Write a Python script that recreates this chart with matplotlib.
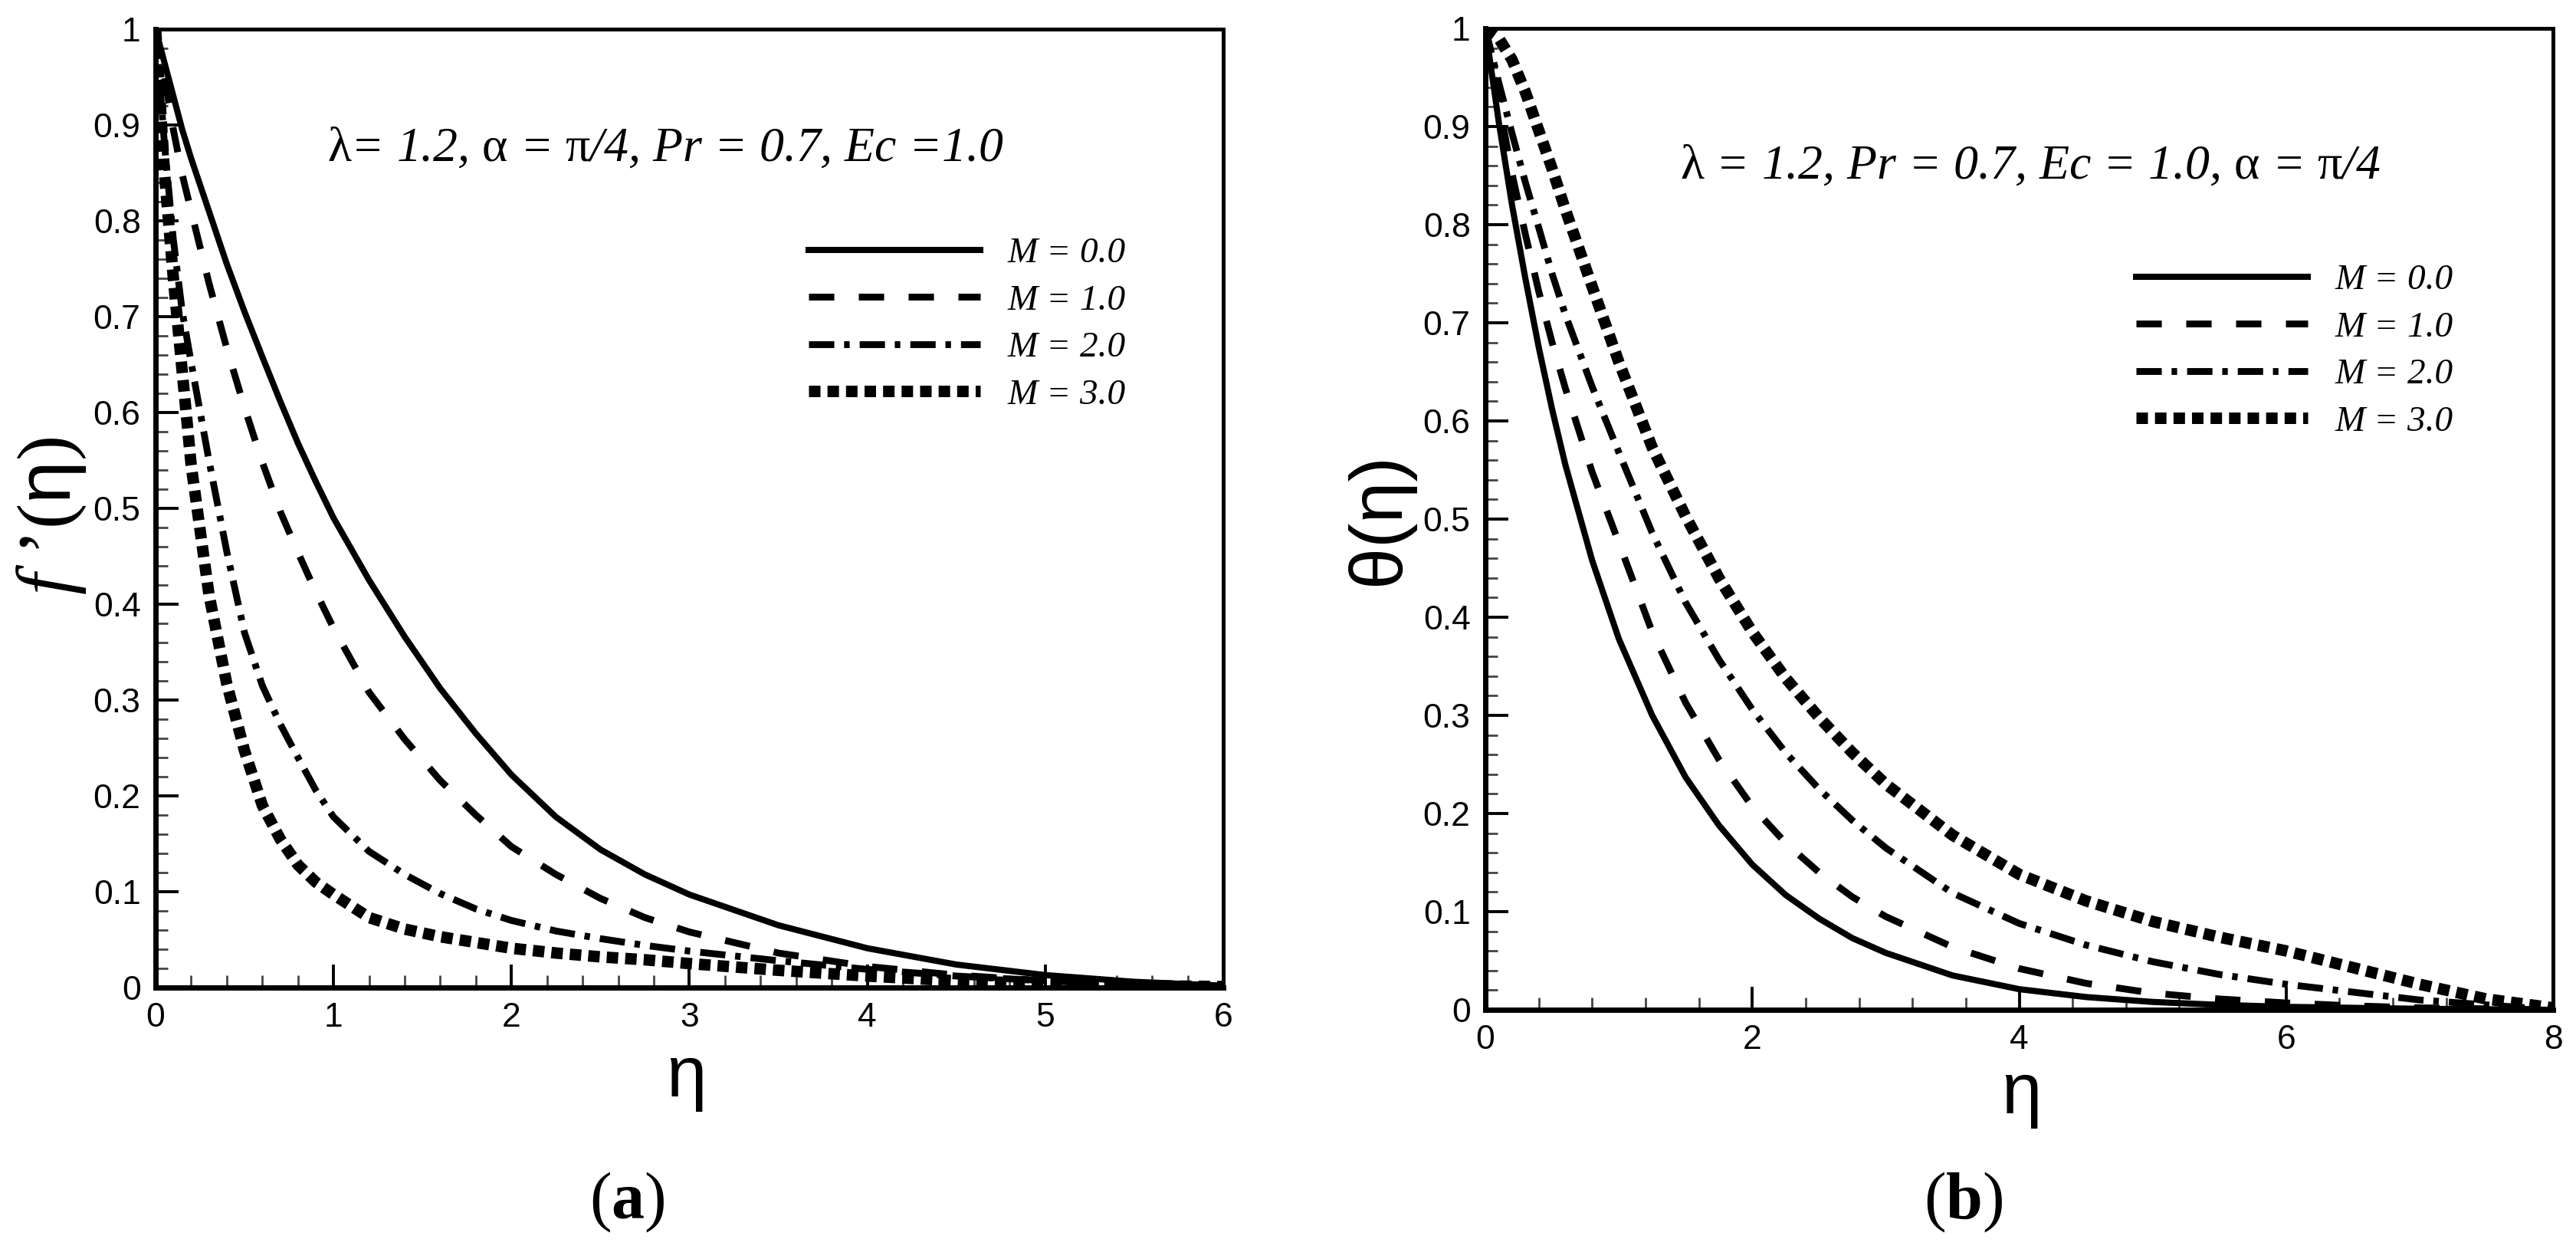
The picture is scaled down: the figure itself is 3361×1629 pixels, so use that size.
import numpy as np
import matplotlib
matplotlib.use('Agg')
import matplotlib.pyplot as plt
from matplotlib.ticker import MultipleLocator, FormatStrFormatter

# ---- data ----
eta_a = [0, 0.05, 0.1, 0.15, 0.2, 0.3, 0.4, 0.5, 0.6, 0.7, 0.8, 0.9, 1.0,
         1.2, 1.4, 1.6, 1.8, 2.0, 2.25, 2.5, 2.75, 3.0, 3.5, 4.0, 4.5, 5.0, 5.5, 6.0]
fp_m0 = [1.0, 0.965, 0.93, 0.895, 0.865, 0.81, 0.755, 0.705, 0.658, 0.612, 0.568, 0.528, 0.49,
         0.425, 0.366, 0.312, 0.265, 0.222, 0.178, 0.144, 0.118, 0.097, 0.065, 0.041, 0.024, 0.013, 0.006, 0.002]
fp_m1 = [1.0, 0.95, 0.895, 0.848, 0.81, 0.735, 0.667, 0.605, 0.548, 0.497, 0.454, 0.413, 0.375,
         0.308, 0.259, 0.216, 0.18, 0.147, 0.118, 0.093, 0.073, 0.058, 0.036, 0.022, 0.013, 0.007, 0.003, 0.001]
fp_m2 = [1.0, 0.88, 0.78, 0.705, 0.652, 0.55, 0.455, 0.37, 0.315, 0.275, 0.24, 0.206, 0.178,
         0.142, 0.118, 0.098, 0.082, 0.07, 0.059, 0.051, 0.044, 0.038, 0.028, 0.019, 0.012, 0.007, 0.003, 0.001]
fp_m3 = [1.0, 0.85, 0.74, 0.642, 0.545, 0.41, 0.317, 0.247, 0.19, 0.155, 0.128, 0.11, 0.097,
         0.073, 0.061, 0.053, 0.047, 0.041, 0.036, 0.032, 0.029, 0.025, 0.018, 0.012, 0.007, 0.004, 0.002, 0.001]

eta_b = [0, 0.1, 0.2, 0.3, 0.4, 0.5, 0.6, 0.8, 1.0, 1.25, 1.5, 1.75, 2.0, 2.25, 2.5, 2.75, 3.0,
         3.5, 4.0, 4.5, 5.0, 5.5, 6.0, 6.5, 7.0, 7.5, 8.0]
th_m0 = [1.0, 0.905, 0.82, 0.745, 0.675, 0.612, 0.555, 0.458, 0.378, 0.300, 0.237, 0.188, 0.148,
         0.117, 0.093, 0.073, 0.058, 0.035, 0.021, 0.013, 0.008, 0.005, 0.003, 0.002, 0.001, 0.0005, 0.0]
th_m1 = [1.0, 0.925, 0.852, 0.79, 0.732, 0.68, 0.633, 0.548, 0.476, 0.385, 0.313, 0.255, 0.207,
         0.17, 0.14, 0.115, 0.095, 0.064, 0.042, 0.027, 0.017, 0.011, 0.007, 0.004, 0.002, 0.001, 0.0]
th_m2 = [1.0, 0.945, 0.893, 0.843, 0.797, 0.75, 0.708, 0.635, 0.568, 0.486, 0.415, 0.357, 0.306,
         0.262, 0.225, 0.193, 0.165, 0.119, 0.088, 0.066, 0.049, 0.036, 0.026, 0.018, 0.01, 0.005, 0.0]
th_m3 = [1.0, 0.99, 0.968, 0.935, 0.896, 0.857, 0.815, 0.737, 0.66, 0.573, 0.503, 0.44, 0.385,
         0.338, 0.298, 0.262, 0.23, 0.178, 0.138, 0.111, 0.09, 0.074, 0.06, 0.043, 0.026, 0.011, 0.002]

labels = ['M = 0.0', 'M = 1.0', 'M = 2.0', 'M = 3.0']
note_a = r'$\mathrm{\lambda}$= 1.2, $\mathrm{\alpha}$ = $\mathrm{\pi}$/4, Pr = 0.7, Ec =1.0'
note_b = r'$\mathrm{\lambda}$ = 1.2, Pr = 0.7, Ec = 1.0, $\mathrm{\alpha}$ = $\mathrm{\pi}$/4'

# ---- style ----
plt.rcParams['font.family'] = ['Liberation Sans', 'DejaVu Sans']
plt.rcParams['mathtext.fontset'] = 'custom'
plt.rcParams['mathtext.rm'] = 'Liberation Serif'
plt.rcParams['mathtext.it'] = 'Liberation Serif:italic'
plt.rcParams['mathtext.bf'] = 'Liberation Serif:bold'
plt.rcParams['mathtext.sf'] = 'Liberation Sans'
plt.rcParams['lines.scale_dashes'] = False

W, H = 3362, 1629
DPI = 200
fig = plt.figure(figsize=(W / DPI, H / DPI), dpi=DPI)

styles = [dict(lw=2.9, ls='-'),
          dict(lw=3.2, dashes=(11.9, 11.5)),
          dict(lw=3.2, dashes=(11.9, 4.6, 2.6, 4.7)),
          dict(lw=5.4, dashes=(5.4, 3.3))]

serif_it = dict(family='Liberation Serif', style='italic')


def setup_axes(ax, xmax, xmajor, xminor):
    ax.set_xlim(0, xmax)
    ax.set_ylim(0, 1)
    ax.xaxis.set_major_locator(MultipleLocator(xmajor))
    ax.xaxis.set_minor_locator(MultipleLocator(xminor))
    ax.yaxis.set_major_locator(MultipleLocator(0.1))
    ax.yaxis.set_minor_locator(MultipleLocator(0.02))
    ax.xaxis.set_major_formatter(FormatStrFormatter('%g'))
    ax.yaxis.set_major_formatter(FormatStrFormatter('%g'))
    ax.tick_params(which='major', direction='in', length=10.8, width=1.4,
                   pad=7, labelsize=16, top=False, right=False)
    ax.tick_params(which='minor', direction='in', length=5.8, width=1.0,
                   color='#444444', top=False, right=False)
    for side in ['left', 'bottom']:
        ax.spines[side].set_linewidth(2.5)
    for side in ['top', 'right']:
        ax.spines[side].set_linewidth(1.8)


def draw_panel(ax, eta, series, note, note_xy, leg_xy):
    for ys, st, lab in zip(series, styles, labels):
        ax.plot(eta, ys, color='black', label=lab, **st)
    ax.text(note_xy[0], note_xy[1], note, transform=ax.transAxes, ha='center',
            va='baseline', fontsize=23, **serif_it)
    ax.legend(loc='upper left', bbox_to_anchor=leg_xy, frameon=False,
              borderpad=0, borderaxespad=0, handlelength=4.74,
              handletextpad=0.76, labelspacing=0.39,
              prop=dict(family='Liberation Serif', style='italic', size=17))


ax1 = fig.add_axes([203 / W, 1 - 1288 / H, 1393 / W, 1250 / H])
setup_axes(ax1, 6, 1, 0.2)
draw_panel(ax1, eta_a, [fp_m0, fp_m1, fp_m2, fp_m3], note_a, (0.4774, 0.8624), (0.6116, 0.783))
ax1.set_xlabel('η', fontsize=34, va='center')
ax1.xaxis.set_label_coords(0.4968, -0.0944)
ax1.set_ylabel(r'$f$ ’($\mathsf{\eta}$)', fontsize=36, family='Liberation Serif',
               va='center', ha='center')
ax1.yaxis.set_label_coords(-0.0976, 0.492)

ax2 = fig.add_axes([1938 / W, 1 - 1317 / H, 1393 / W, 1280 / H])
setup_axes(ax2, 8, 2, 0.4)
draw_panel(ax2, eta_b, [th_m0, th_m1, th_m2, th_m3], note_b, (0.510, 0.847), (0.6095, 0.760))
ax2.set_xlabel('η', fontsize=34, va='center')
ax2.xaxis.set_label_coords(0.502, -0.0867)
ax2.set_ylabel('θ(η)', fontsize=35, va='center', ha='center')
ax2.yaxis.set_label_coords(-0.099, 0.5)

fig.text(818 / W, 1 - 1568 / H, r'($\mathbf{a}$)', fontsize=31, family='Liberation Serif',
         ha='center', va='center')
fig.text(2562 / W, 1 - 1568 / H, r'($\mathbf{b}$)', fontsize=31, family='Liberation Serif',
         ha='center', va='center')

fig.savefig('out.png', dpi=DPI)
